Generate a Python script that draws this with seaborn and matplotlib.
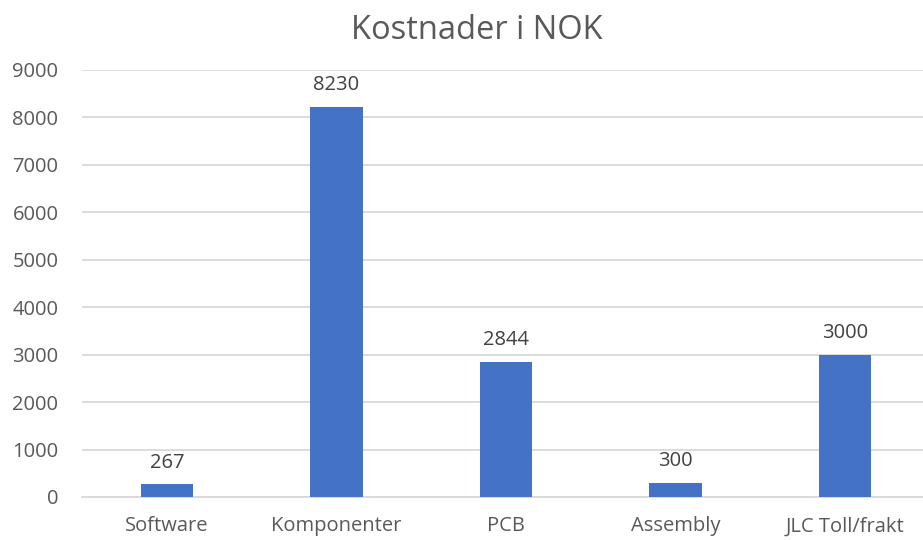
import matplotlib
matplotlib.use("Agg")
import matplotlib.pyplot as plt
import seaborn as sns
import pandas as pd

categories = ["Software", "Komponenter", "PCB", "Assembly", "JLC Toll/frakt"]
costs = [267, 8230, 2844, 300, 3000]
yticks = [0, 1000, 2000, 3000, 4000, 5000, 6000, 7000, 8000, 9000]

sns.set_theme(style="white")
plt.rcParams["font.family"] = ["Open Sans", "DejaVu Sans"]

text_col = "#595959"
bar_col = "#4472C4"

df = pd.DataFrame({"kategori": categories, "kostnad": costs})

fig = plt.figure(figsize=(9.23, 5.40), dpi=100)
W, H = 923, 540
left, right, top, bottom = 82, 930, 70, 497
ax = fig.add_axes([left / W, (H - bottom) / H, (right - left) / W, (bottom - top) / H])

sns.barplot(data=df, x="kategori", y="kostnad", color=bar_col, width=0.31,
            saturation=1, linewidth=0, ax=ax, zorder=3)

ax.set_ylim(0, 9000)
ax.set_xlim(-0.5, 4.5)
ax.set_yticks(yticks)
ax.set_yticklabels([str(t) for t in yticks])
ax.yaxis.grid(True, color="#D9D9D9", linewidth=1.3, zorder=0)
ax.set_axisbelow(True)
for s in ["top", "right", "left"]:
    ax.spines[s].set_visible(False)
ax.spines["bottom"].set_color("#D9D9D9")
ax.spines["bottom"].set_linewidth(1.3)
ax.tick_params(axis="y", length=0, pad=17, labelsize=14.5, labelcolor=text_col)
ax.tick_params(axis="x", length=0, pad=14, labelsize=14.5, labelcolor=text_col)
ax.set_xlabel("")
ax.set_ylabel("")

for i, v in enumerate(costs):
    ax.annotate(str(v), (i, v), xytext=(0, 8.5), textcoords="offset points",
                ha="center", va="bottom", fontsize=14.5, color="#404040")

fig.text((W / 2 + 15) / W, 1 - 31 / H, "Kostnader i NOK", ha="center", va="center",
         fontsize=23.5, color=text_col)

fig.savefig("out.png", dpi=100)
